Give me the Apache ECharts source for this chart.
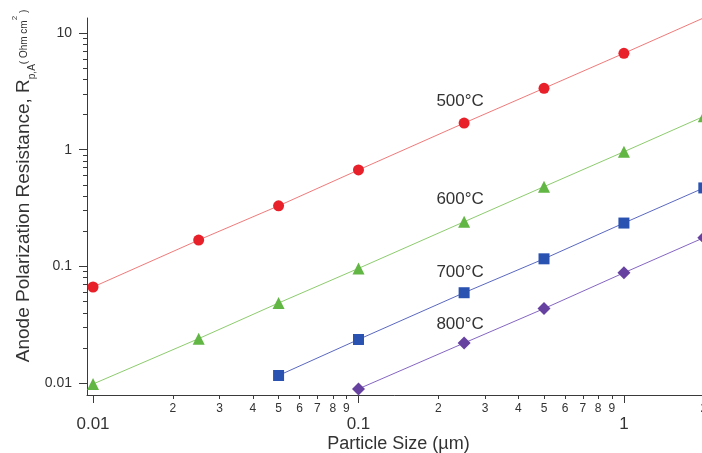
<!DOCTYPE html>
<html>
<head>
<meta charset="utf-8">
<script src="https://cdn.jsdelivr.net/npm/echarts@6/dist/echarts.min.js"></script>
<style>
  html, body { margin: 0; padding: 0; background: #ffffff; }
  #chart { width: 702px; height: 453px; }
</style>
</head>
<body>
<div id="chart"></div>
<script>
// Anode polarization resistance vs. particle size, one series per temperature
const temps = ['500°C', '600°C', '700°C', '800°C'];

const sizes500 = [0.01, 0.025, 0.05, 0.1, 0.25, 0.5, 1, 2];
const res500   = [0.0665, 0.168, 0.33, 0.67, 1.69, 3.36, 6.7, 13.5];

const sizes600 = [0.01, 0.025, 0.05, 0.1, 0.25, 0.5, 1, 2];
const res600   = [0.0098, 0.024, 0.0485, 0.096, 0.241, 0.482, 0.96, 1.93];

const sizes700 = [0.05, 0.1, 0.25, 0.5, 1, 2];
const res700   = [0.0116, 0.0236, 0.0594, 0.116, 0.235, 0.47];

const sizes800 = [0.1, 0.25, 0.5, 1, 2];
const res800   = [0.0089, 0.022, 0.0434, 0.088, 0.176];

// particle size whose point carries the temperature label
const labelSize = 0.25;

// axis ranges (the x range runs a little past the right edge of the canvas)
const xMin = 0.00949, xMax = 2.11;
const yMin = 0.00789, yMax = 13.45;

// tick positions and labels
const xMajorTicks  = [0.01, 0.1, 1];
const xMajorLabels = ['0.01', '0.1', '1'];
const xMinorTicks  = [0.02, 0.03, 0.04, 0.05, 0.06, 0.07, 0.08, 0.09,
                      0.2, 0.3, 0.4, 0.5, 0.6, 0.7, 0.8, 0.9, 2];
const xMinorLabels = ['2', '3', '4', '5', '6', '7', '8', '9',
                      '2', '3', '4', '5', '6', '7', '8', '9', '2'];
const yMajorTicks  = [0.01, 0.1, 1, 10];
const yMajorLabels = ['0.01', '0.1', '1', '10'];
const yMinorTicks  = [0.02, 0.03, 0.04, 0.05, 0.06, 0.07, 0.08, 0.09,
                      0.2, 0.3, 0.4, 0.5, 0.6, 0.7, 0.8, 0.9,
                      2, 3, 4, 5, 6, 7, 8, 9];

const FONT = '"Liberation Sans", Arial, Helvetica, sans-serif';
const AXIS_COLOR = '#3a3a3a';
const TEXT_COLOR = '#333333';

const seriesStyle = [
  { symbol: 'circle',   size: 11, marker: '#e8202a', line: '#f07a7a', offset: [-4, -3] },
  { symbol: 'triangle', size: 12, marker: '#62b643', line: '#8dcc6e', offset: [-4, -3] },
  { symbol: 'rect',     size: 11, marker: '#2a52b0', line: '#5a68c0', offset: [-4, -1] },
  { symbol: 'diamond',  size: 13, marker: '#6641a0', line: '#8566c2', offset: [-4, 1] }
];

const seriesData = [
  [sizes500, res500],
  [sizes600, res600],
  [sizes700, res700],
  [sizes800, res800]
];

const log10 = Math.log10;

function pickLabel(ticks, labels) {
  return function (v) {
    for (let i = 0; i < ticks.length; i++) {
      if (Math.abs(log10(ticks[i]) - v) < 1e-6) return labels[i];
    }
    return '';
  };
}

// value axis laid over a log axis in log10 space, drawing a tick family
function tickAxis(kind, min, max, ticks, labels, tickLen, fontSize, margin) {
  const values = ticks.map(log10);
  return {
    type: 'value',
    min: log10(min),
    max: log10(max),
    position: kind === 'x' ? 'bottom' : 'left',
    axisLine: { show: false, onZero: false },
    splitLine: { show: false },
    axisTick: {
      show: true,
      customValues: values,
      length: tickLen,
      inside: false,
      lineStyle: { color: AXIS_COLOR, width: 1 }
    },
    axisLabel: labels ? {
      show: true,
      customValues: values,
      formatter: pickLabel(ticks, labels),
      fontSize: fontSize,
      fontFamily: FONT,
      color: TEXT_COLOR,
      margin: margin
    } : { show: false }
  };
}

const series = seriesData.map(function (pair, k) {
  const sizes = pair[0], res = pair[1], st = seriesStyle[k];
  return {
    type: 'line',
    name: temps[k],
    xAxisIndex: 0,
    yAxisIndex: 0,
    symbol: st.symbol,
    symbolSize: st.size,
    showAllSymbol: true,
    lineStyle: { color: st.line, width: 1 },
    itemStyle: { color: st.marker },
    emphasis: { disabled: true },
    data: sizes.map(function (s, i) {
      const item = { value: [s, res[i]] };
      if (s === labelSize) {
        item.label = {
          show: true,
          position: 'top',
          offset: st.offset,
          formatter: temps[k],
          fontSize: 17,
          fontFamily: FONT,
          color: TEXT_COLOR
        };
      }
      return item;
    })
  };
});

const chart = echarts.init(document.getElementById('chart'), null, { renderer: 'canvas' });

chart.setOption({
  animation: false,
  backgroundColor: '#ffffff',
  grid: {
    left: 87, width: 623, top: 18, bottom: 58,
    containLabel: false,
    outerBoundsMode: 'none'
  },
  xAxis: [
    {
      type: 'log',
      logBase: 10,
      min: xMin,
      max: xMax,
      position: 'bottom',
      axisLine: { show: true, onZero: false, lineStyle: { color: AXIS_COLOR, width: 1 } },
      axisTick: { show: false },
      axisLabel: { show: false },
      splitLine: { show: false },
      name: 'Particle Size (µm)',
      nameLocation: 'middle',
      nameGap: 40,
      nameTextStyle: { fontSize: 18, fontFamily: FONT, color: TEXT_COLOR }
    },
    tickAxis('x', xMin, xMax, xMajorTicks, xMajorLabels, 8, 17, 21),
    tickAxis('x', xMin, xMax, xMinorTicks, xMinorLabels, 4, 12, 8)
  ],
  yAxis: [
    {
      type: 'log',
      logBase: 10,
      min: yMin,
      max: yMax,
      position: 'left',
      axisLine: { show: true, onZero: false, lineStyle: { color: AXIS_COLOR, width: 1 } },
      axisTick: { show: false },
      axisLabel: { show: false },
      splitLine: { show: false },
      name: '{m|Anode Polarization Resistance, R}{s|p,A}{u|( Ohm cm}{p|2}{u| )}',
      nameLocation: 'middle',
      nameGap: 50,
      nameTextStyle: {
        fontFamily: FONT,
        color: TEXT_COLOR,
        padding: [0, 0, 0, 41],
        rich: {
          m: { fontSize: 19, lineHeight: 26, fontFamily: FONT, color: TEXT_COLOR },
          s: { fontSize: 10, lineHeight: 12, verticalAlign: 'bottom', fontFamily: FONT, color: TEXT_COLOR },
          u: { fontSize: 10, fontFamily: FONT, color: TEXT_COLOR },
          p: { fontSize: 8, lineHeight: 10, verticalAlign: 'top', fontFamily: FONT, color: TEXT_COLOR }
        }
      }
    },
    tickAxis('y', yMin, yMax, yMajorTicks, yMajorLabels, 8, 14, 15),
    tickAxis('y', yMin, yMax, yMinorTicks, null, 4, 12, 0)
  ],
  series: series
});
</script>
</body>
</html>
